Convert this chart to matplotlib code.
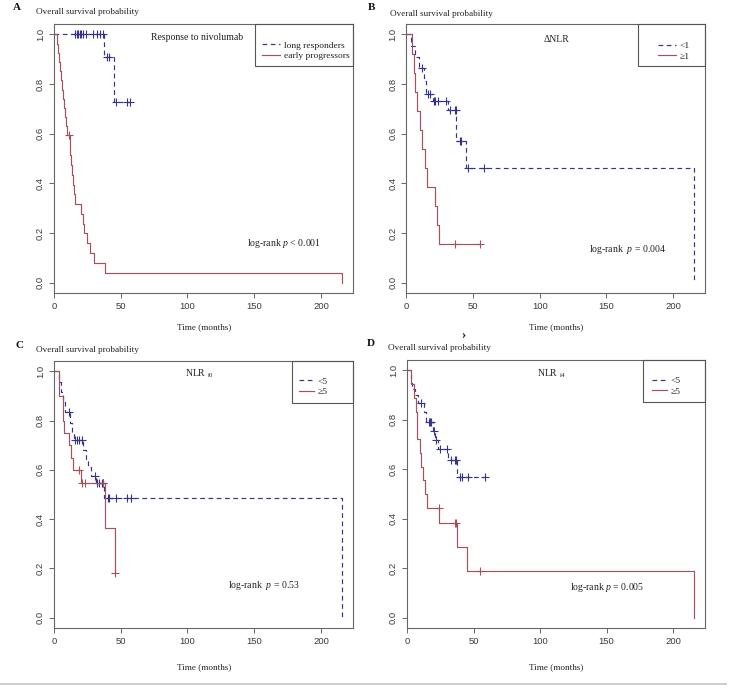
import numpy as np
import matplotlib
matplotlib.use('Agg')
import matplotlib.pyplot as plt
from matplotlib.patches import Rectangle
from matplotlib.lines import Line2D

# ---------------- data ----------------
x_ticks = [0, 50, 100, 150, 200]
y_ticks = [0.0, 0.2, 0.4, 0.6, 0.8, 1.0]
y_tick_labels = ['0.0', '0.2', '0.4', '0.6', '0.8', '1.0']

# Panel A: response to nivolumab
A_long_time = [0, 37.5, 45.2]
A_long_surv = [1.0, 0.909, 0.727]
A_long_end = 57.0
A_long_cens_time = [15.5, 17.0, 18.3, 19.5, 20.5, 22.0, 24.0, 29.5, 32.0, 34.5, 37.0, 40.0, 41.0, 46.2, 54.5, 57.0]
A_long_cens_surv = [1.0, 1.0, 1.0, 1.0, 1.0, 1.0, 1.0, 1.0, 1.0, 1.0, 1.0, 0.909, 0.909, 0.727, 0.727, 0.727]

A_early_time = [0, 2.5, 3.3, 4.0, 4.7, 5.3, 6.0, 6.8, 7.5, 8.2, 9.0, 10.0, 11.8, 12.3, 12.9, 13.5,
                14.2, 14.9, 15.6, 20.6, 21.6, 22.8, 24.5, 27.2, 30.3, 38.2, 215.5]
A_early_surv = [1.0, 0.963, 0.926, 0.889, 0.852, 0.815, 0.778, 0.741, 0.704, 0.667, 0.630, 0.593, 0.553,
                0.514, 0.474, 0.435, 0.395, 0.356, 0.316, 0.277, 0.237, 0.198, 0.158, 0.119, 0.079, 0.040, 0.0]
A_early_end = 215.5
A_early_cens_time = [11.3]
A_early_cens_surv = [0.593]

# Panel B: delta NLR
B_lt1_time = [0, 3.5, 6.5, 9.5, 13.0, 14.6, 19.6, 30.9, 37.4, 45.0, 215.5]
B_lt1_surv = [1.0, 0.955, 0.909, 0.864, 0.812, 0.760, 0.730, 0.695, 0.570, 0.460, 0.0]
B_lt1_end = 215.5
B_lt1_cens_time = [11.6, 16.0, 18.0, 20.4, 21.4, 23.5, 30.0, 32.7, 36.2, 37.0, 40.0, 41.2, 45.8, 58.5]
B_lt1_cens_surv = [0.864, 0.760, 0.760, 0.730, 0.730, 0.730, 0.730, 0.695, 0.695, 0.695, 0.570, 0.570, 0.460, 0.460]

B_ge1_time = [0, 4.0, 5.3, 6.5, 7.8, 10.3, 12.0, 13.6, 15.3, 21.6, 22.9, 24.6]
B_ge1_surv = [1.0, 0.923, 0.846, 0.769, 0.692, 0.615, 0.538, 0.462, 0.385, 0.308, 0.231, 0.154]
B_ge1_end = 55.0
B_ge1_cens_time = [36.5, 55.0]
B_ge1_cens_surv = [0.154, 0.154]

# Panel C: NLR i0
C_lt5_time = [0, 3.8, 5.0, 6.8, 8.5, 11.8, 13.8, 14.8, 21.8, 23.8, 25.5, 28.0, 31.3, 37.7, 215.5]
C_lt5_surv = [1.0, 0.958, 0.917, 0.875, 0.833, 0.790, 0.750, 0.720, 0.680, 0.645, 0.610, 0.575, 0.545, 0.485, 0.0]
C_lt5_end = 215.5
C_lt5_cens_time = [11.1, 15.6, 17.3, 18.6, 21.0, 30.6, 32.4, 33.9, 36.1, 36.9, 40.2, 41.4, 46.5, 55.0, 57.5]
C_lt5_cens_surv = [0.833, 0.720, 0.720, 0.720, 0.720, 0.575, 0.545, 0.545, 0.545, 0.545,
                   0.485, 0.485, 0.485, 0.485, 0.485]

C_ge5_time = [0, 3.8, 6.8, 7.6, 11.0, 12.8, 14.3, 20.0, 38.2, 45.7]
C_ge5_surv = [1.0, 0.90, 0.80, 0.75, 0.70, 0.65, 0.60, 0.545, 0.364, 0.182]
C_ge5_end = 45.7
C_ge5_cens_time = [18.5, 21.0, 23.2, 36.9, 45.7]
C_ge5_cens_surv = [0.60, 0.545, 0.545, 0.545, 0.182]

# Panel D: NLR i4
D_lt5_time = [0, 2.8, 4.0, 6.0, 8.0, 12.5, 14.0, 19.8, 21.3, 23.0, 31.0, 37.9]
D_lt5_surv = [1.0, 0.95, 0.925, 0.90, 0.87, 0.83, 0.79, 0.755, 0.72, 0.68, 0.638, 0.568]
D_lt5_end = 58.8
D_lt5_cens_time = [10.8, 16.5, 17.5, 18.3, 20.5, 21.5, 24.8, 30.0, 32.7, 35.8, 36.8, 40.0, 41.2, 45.8, 58.8]
D_lt5_cens_surv = [0.87, 0.79, 0.79, 0.79, 0.755, 0.72, 0.68, 0.68, 0.638, 0.638, 0.638,
                   0.568, 0.568, 0.568, 0.568]

D_ge5_time = [0, 2.8, 5.5, 6.5, 7.2, 7.8, 9.5, 10.8, 12.0, 13.6, 15.3, 24.1, 37.9, 45.0, 215.7]
D_ge5_surv = [1.0, 0.944, 0.889, 0.833, 0.778, 0.722, 0.667, 0.611, 0.556, 0.5, 0.444, 0.381,
              0.286, 0.19, 0.0]
D_ge5_end = 215.7
D_ge5_cens_time = [24.0, 36.3, 37.0, 54.8]
D_ge5_cens_surv = [0.444, 0.381, 0.381, 0.19]

# ---------------- styling ----------------
SERIF = ['Liberation Serif', 'DejaVu Serif']
SANS = ['Liberation Sans', 'DejaVu Sans']
plt.rcParams['font.family'] = SANS
plt.rcParams['mathtext.fontset'] = 'custom'
plt.rcParams['mathtext.rm'] = 'Liberation Serif'
plt.rcParams['mathtext.it'] = 'Liberation Serif:italic'
plt.rcParams['mathtext.bf'] = 'Liberation Serif:bold'

BLUE = '#34348e'
RED = '#a4505e'
BOX = '#666666'
TXT = '#222222'

W, H = 730, 688
fig = plt.figure(figsize=(7.3, 6.88), dpi=100)


def fx(x):
    return x / W


def fy(y):
    return 1 - y / H


def make_axes(l, t, r, b):
    ax = fig.add_axes([fx(l), fy(b), (r - l) / W, (b - t) / H])
    ax.set_xlim(0, 224)
    ax.set_ylim(-0.042, 1.042)
    ax.set_xticks(x_ticks)
    ax.set_yticks(y_ticks)
    ax.set_yticklabels(y_tick_labels, rotation=90, va='center')
    for sp in ax.spines.values():
        sp.set_color(BOX)
        sp.set_linewidth(0.8)
    ax.tick_params(direction='out', length=3.6, width=0.7, colors=BOX,
                   labelcolor='#3a3a3a', labelsize=6.8, pad=3.0)
    return ax


def draw_curve(ax, t, s, end, ct, cs, color, dashed):
    tt = list(t) + [end]
    ss = list(s) + [s[-1]]
    ls = (0, (4, 3)) if dashed else '-'
    line, = ax.step(tt, ss, where='post', color=color, lw=0.85, linestyle=ls)
    ax.plot(ct, cs, linestyle='none', marker='+', ms=5.5, mew=0.8, color=color)
    return line


def legend_box(ax, handles, labels, frame, hx, hy, hlen):
    l, t, r, b = frame
    fig.add_artist(Rectangle((fx(l), fy(b)), (r - l) / W, (b - t) / H,
                             transform=fig.transFigure, fill=False,
                             edgecolor='#555555', lw=0.8))
    leg = ax.legend(handles, labels, loc='upper left',
                    bbox_to_anchor=(fx(hx), fy(hy)), bbox_transform=fig.transFigure,
                    frameon=False, borderpad=0, borderaxespad=0,
                    handlelength=hlen, handletextpad=0.4, labelspacing=0.2,
                    prop={'family': SERIF, 'size': 6.8})
    for tx in leg.get_texts():
        tx.set_color(TXT)
        tx.set_rotation(0)
    return leg


def ftext(x, y, s, **kw):
    kw.setdefault('family', SERIF)
    kw.setdefault('color', TXT)
    fig.text(fx(x), fy(y), s, **kw)


# ---------------- panel A ----------------
axA = make_axes(54, 24, 353, 293)
hA1 = draw_curve(axA, A_long_time, A_long_surv, A_long_end, A_long_cens_time, A_long_cens_surv, BLUE, True)
hA2 = draw_curve(axA, A_early_time, A_early_surv, A_early_end, A_early_cens_time, A_early_cens_surv, RED, False)
legend_box(axA, [hA1, hA2], ['long responders', 'early progressors'], (255, 24, 353, 66), 262, 41.0, 1.9)
ftext(197, 38, 'Response to nivolumab', fontsize=7, ha='center', va='center')
ftext(284, 244, r'log-rank $\it{p}$ < 0.001', fontsize=7, ha='center', va='center')

# ---------------- panel B ----------------
axB = make_axes(406.5, 24, 705, 293)
hB1 = draw_curve(axB, B_lt1_time, B_lt1_surv, B_lt1_end, B_lt1_cens_time, B_lt1_cens_surv, BLUE, True)
hB2 = draw_curve(axB, B_ge1_time, B_ge1_surv, B_ge1_end, B_ge1_cens_time, B_ge1_cens_surv, RED, False)
legend_box(axB, [hB1, hB2], ['<1', '\u22651'], (638, 24, 705, 66), 658, 41.5, 1.9)
ftext(557, 40, '\u0394NLR', fontsize=7, ha='center', va='center')
ftext(628, 249, r'log-rank  $\it{p}$ = 0.004', fontsize=7, ha='center', va='center')

# ---------------- panel C ----------------
axC = make_axes(54, 361, 353, 628)
hC1 = draw_curve(axC, C_lt5_time, C_lt5_surv, C_lt5_end, C_lt5_cens_time, C_lt5_cens_surv, BLUE, True)
hC2 = draw_curve(axC, C_ge5_time, C_ge5_surv, C_ge5_end, C_ge5_cens_time, C_ge5_cens_surv, RED, False)
legend_box(axC, [hC1, hC2], ['<5', '\u22655'], (292, 361, 353, 403), 299, 377.0, 1.6)
ftext(200, 374, r'NLR $_{\mathrm{i0}}$', fontsize=7, ha='center', va='center')
ftext(264, 585, r'log-rank  $\it{p}$ = 0.53', fontsize=7, ha='center', va='center')

# ---------------- panel D ----------------
axD = make_axes(407, 360, 705, 628)
hD1 = draw_curve(axD, D_lt5_time, D_lt5_surv, D_lt5_end, D_lt5_cens_time, D_lt5_cens_surv, BLUE, True)
hD2 = draw_curve(axD, D_ge5_time, D_ge5_surv, D_ge5_end, D_ge5_cens_time, D_ge5_cens_surv, RED, False)
legend_box(axD, [hD1, hD2], ['<5', '\u22655'], (643, 360, 705, 402), 652, 376.5, 1.6)
ftext(552, 374, r'NLR $_{\mathrm{i4}}$', fontsize=7, ha='center', va='center')
ftext(607, 587, r'log-rank $\it{p}$ = 0.005', fontsize=7, ha='center', va='center')

# ---------------- panel labels & titles ----------------
for (lx, ly, letter, tx, ty) in [(13, 7, 'A', 36, 12.5), (368, 7, 'B', 390, 14.5),
                                 (15, 345, 'C', 36, 350), (367, 344, 'D', 388, 348)]:
    ftext(lx, ly, letter, fontsize=8, fontweight='bold', ha='left', va='center', color='#111111')
    ftext(tx, ty, 'Overall survival probability', fontsize=6.6, ha='left', va='center')

for (cx, cy) in [(204, 327), (556, 327), (204, 667), (556, 667)]:
    ftext(cx, cy, 'Time (months)', fontsize=6.6, ha='center', va='center')

ftext(463, 335, '\u203a', fontsize=9, fontweight='bold', ha='center', va='center', color='#111111')

fig.add_artist(Line2D([0.0, fx(726)], [fy(684), fy(684)], transform=fig.transFigure,
                      color='#cccccc', lw=1.4))

fig.savefig('out.png', dpi=100, facecolor='white')
